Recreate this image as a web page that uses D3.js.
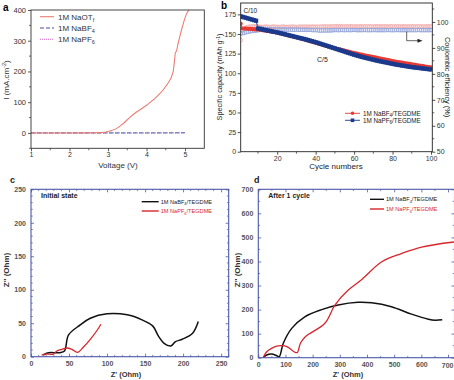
<!DOCTYPE html>
<html><head><meta charset="utf-8">
<script src="https://cdn.jsdelivr.net/npm/d3@7"></script>
<style>
body{margin:0;background:#fff;}
text{font-family:"Liberation Sans",Arial,sans-serif;}
</style></head>
<body>
<svg id="fig" width="454" height="380"></svg>
<script>
// ---------- Panel a data ----------
const voltOTf = [1, 2.0, 2.6, 2.79, 3.05, 3.22, 3.39, 3.56, 3.74, 4.0, 4.26, 4.52, 4.69, 4.73, 4.75, 4.77, 4.82, 4.93, 5.03, 5.1];
const curOTf  = [0, 0, 0.5, 1, 6.5, 14, 30, 50, 68, 90, 117, 155, 199, 240, 262, 264, 291, 345, 385, 400];
const voltBF4 = [1, 2, 3, 4, 5];
const curBF4  = [0, 0, 0, 0, 0.5];
const voltPF6 = [1, 2, 3, 4, 5];
const curPF6  = [0, 0, 0, 0, 0.5];
const aXTicks = [1, 2, 3, 4, 5];
const aYTicks = [0, 100, 200, 300, 400];

// ---------- Panel b data ----------
const capBF4 = [163,157,157,156.8,156.6,156.4,156.2,156,155.8,155.6,
155.3,155,154.6,154.2,153.8,153.4,153,152.6,152.2,151.8,
151.2,150.6,150,149.4,148.8,148.2,147.6,147,146.4,145.8,
145.1,144.4,143.7,143,142.3,141.6,140.9,140.2,139.5,138.8,
138.1,137.4,136.7,136,135.3,134.6,133.9,133.2,132.5,131.8,
131.2,130.6,130,129.4,128.8,128.2,127.6,127,126.4,125.8,
125.2,124.6,124.1,123.6,123.1,122.6,122.1,121.6,121.1,120.6,
120.1,119.6,119.1,118.6,118.1,117.6,117.1,116.6,116.1,115.6,
115.1,114.6,114.2,113.8,113.4,113,112.6,112.2,111.8,111.4,
111,110.6,110.2,109.8,109.4,109,108.6,108.2,107.8,107.4];
const capPF6 = [172.5,171.8,171.1,170.4,169.7,169,168.3,167.6,166.9,157,
156.5,156,155.5,155,154.5,154,153.5,153,152.5,152,
151.4,150.8,150.2,149.6,149,148.4,147.8,147.2,146.6,146,
145.4,144.8,144.2,143.6,143,142.3,141.6,140.9,140.2,139.5,
138.8,138,137.2,136.4,135.6,134.8,134,133.2,132.4,131.6,
130.8,130,129.2,128.4,127.6,126.8,126,125.2,124.4,123.6,
122.9,122.2,121.5,120.8,120.2,119.6,119,118.4,117.8,117.2,
116.6,116,115.5,115,114.5,114,113.5,113,112.5,112,
111.5,111,110.6,110.2,109.8,109.4,109,108.6,108.2,107.8,
107.5,107.2,106.9,106.6,106.3,106,105.7,105.4,105.1,104.8];
const ceBF4 = [93.0,96.6,97.5,97.9,98.1,98.2,98.2,98.3,98.2,98.3,
98.1,98.0,98.1,98.2,98.1,98.0,98.1,98.2,98.1,98.1,
98.0,98.1,98.2,98.1,98.0,98.1,98.1,98.2,98.1,98.0,
98.1,98.2,98.1,98.2,98.1,98.2,98.1,98.2,98.2,98.1,
98.2,98.1,98.2,98.2,98.3,98.2,98.2,98.3,98.2,98.3,
98.3,98.4,98.3,98.2,98.3,98.3,98.2,98.3,98.3,98.2,
98.3,98.2,98.3,98.3,98.2,98.3,98.3,98.2,98.3,98.2,
98.3,98.3,98.2,98.3,98.2,98.3,98.3,98.2,98.3,98.3,
98.2,98.3,98.3,98.2,98.3,98.3,98.2,98.3,98.2,98.3,
98.3,98.2,98.3,98.3,98.2,98.3,98.2,98.3,98.3,98.2];
const cePF6 = [95.5,95.7,95.9,96.1,96.3,96.4,96.5,96.6,96.7,96.8,
97.6,97.4,97.3,97.3,97.2,97.2,97.1,97.2,97.1,97.1,
97.0,97.1,97.0,97.1,97.0,97.0,97.1,97.0,97.0,97.1,
97.0,97.0,96.9,97.0,96.9,97.0,96.9,96.9,96.8,96.9,
96.8,96.7,96.7,96.8,96.7,96.8,96.7,96.8,96.8,96.9,
96.9,96.8,96.9,96.9,96.8,96.9,96.9,96.8,96.9,96.9,
96.9,96.8,96.9,96.8,96.9,96.9,96.8,96.9,96.8,96.9,
96.9,96.8,96.9,96.8,96.9,96.8,96.9,96.9,96.8,96.9,
96.8,96.9,96.9,96.8,96.9,96.8,96.9,96.8,96.9,96.8,
96.9,96.8,96.9,96.9,96.8,96.9,96.8,96.9,96.8,96.9];
const bXTicks = [20, 40, 60, 80, 100];
const bYTicks = [0, 25, 50, 75, 100, 125, 150, 175];
const bY2Ticks = [50, 60, 70, 80, 90, 100];

// ---------- Panel c data (initial state) ----------
const cBF4_re = [16,23,38,44,49.4,64.8,78,100,126.6,146,160,168,175,184,190,199,212.5,220];
const cBF4_im = [2.5,6,6,8.5,32.5,47.5,57.5,64,62.5,55,46,30,20,16,22.5,26,35,52.5];
const cPF6_re = [14,18.5,29.5,34,40.6,47,53.8,61,69,78,87,92];
const cPF6_im = [2.5,4,4,8.5,11,13,11,6.5,14.5,26,39.5,48.5];
const cTicks = [0, 50, 100, 150, 200, 250];

// ---------- Panel d data (after 1 cycle) ----------
const dBF4_re = [18,31,49,68,77,92,123,171,233,294,367,417,490,564,626,651,677];
const dBF4_im = [0,11,15,8,4,60,122,170,200,219,230,228,212,181,160,156,158];
const dPF6_re = [18,31,49,68,86,105,123,136,144,155,173,245,282,331,381,453,527,601,720];
const dPF6_im = [0,25,39,48.5,50,46,32,22,22,60,87,143,219,281,325,398,433,460,481];
const dTicks = [0, 100, 200, 300, 400, 500, 600, 700];

// =================== drawing ===================
const svg = d3.select("#fig");
const zip = (xs, ys) => xs.map((x, i) => [x, ys[i]]);

function styleAxis(g, color, fs, weight, tcolor) {
  g.select(".domain").remove();
  g.selectAll(".tick line").attr("stroke", color).attr("stroke-width", 0.8);
  g.selectAll(".tick text").attr("font-size", fs).attr("font-weight", weight || "normal")
    .attr("fill", tcolor || "#333").attr("font-family", "Liberation Sans, Arial, sans-serif");
}
function minor(g, scale, vals, orient, size, color) {
  vals.forEach(v => {
    const p = scale(v);
    if (orient === "h") g.append("line").attr("x1", p).attr("x2", p).attr("y1", 0).attr("y2", size).attr("stroke", color).attr("stroke-width", 0.7);
    else g.append("line").attr("y1", p).attr("y2", p).attr("x1", 0).attr("x2", size).attr("stroke", color).attr("stroke-width", 0.7);
  });
}

// ---------- Panel a ----------
{
  const x = d3.scaleLinear([1, 5.5], [31, 204.3]);
  const y = d3.scaleLinear([-50, 400], [148.3, 10]);
  const g = svg.append("g");
  const ax = g.append("g").attr("transform", "translate(0,148.3)")
    .call(d3.axisBottom(x).tickValues(aXTicks).tickSize(3).tickPadding(1).tickFormat(d3.format("d")));
  styleAxis(ax, "#333", 7);
  minor(ax, x, [1.5, 2.5, 3.5, 4.5], "h", 2, "#333");
  const ay = g.append("g").attr("transform", "translate(31,0)")
    .call(d3.axisLeft(y).tickValues(aYTicks).tickSize(3).tickPadding(2));
  styleAxis(ay, "#333", 7.5);
  minor(ay, y, [-50, 50, 150, 250, 350], "v", -2, "#333");
  const line = d3.line().x(d => x(d[0])).y(d => y(d[1])).curve(d3.curveMonotoneX);
  g.append("defs").append("clipPath").attr("id", "clipA").append("rect")
    .attr("x", 31).attr("y", 10).attr("width", 173.3).attr("height", 138.3);
  const pl = g.append("g").attr("clip-path", "url(#clipA)");
  pl.append("path").attr("d", line(zip(voltBF4, curBF4))).attr("fill", "none").attr("stroke", "#4a4aa8").attr("stroke-width", 1).attr("stroke-dasharray", "4,2");
  pl.append("path").attr("d", line(zip(voltPF6, curPF6))).attr("fill", "none").attr("stroke", "#d060c8").attr("stroke-width", 1).attr("stroke-dasharray", "1,1");
  pl.append("path").attr("d", line(zip(voltOTf, curOTf))).attr("fill", "none").attr("stroke", "#ec7c72").attr("stroke-width", 1.1);
  g.append("rect").attr("x", 31).attr("y", 10).attr("width", 173.3).attr("height", 138.3).attr("fill", "none").attr("stroke", "#333").attr("stroke-width", 0.9);
  const leg = [["#ec7c72", null, "1M NaOT", "f"], ["#4a4aa8", "4,2", "1M NaBF", "4"], ["#d060c8", "1,1", "1M NaPF", "6"]];
  leg.forEach((L, i) => {
    const yy = 16.7 + i * 11.3;
    g.append("line").attr("x1", 40).attr("x2", 54).attr("y1", yy).attr("y2", yy).attr("stroke", L[0]).attr("stroke-width", 1.1).attr("stroke-dasharray", L[1]);
    const t = g.append("text").attr("x", 58).attr("y", yy + 2.8).attr("font-size", 8).attr("fill", "#333");
    t.append("tspan").text(L[2]);
    t.append("tspan").attr("font-size", 5.5).attr("dy", 2).text(L[3]);
  });
  g.append("text").attr("x", 3).attr("y", 11).attr("font-size", 10).attr("font-weight", "bold").text("a");
  g.append("text").attr("x", 118).attr("y", 168).attr("text-anchor", "middle").attr("font-size", 8).attr("fill", "#333").text("Voltage (V)");
  const yl = g.append("text").attr("transform", "translate(9,80) rotate(-90)").attr("text-anchor", "middle").attr("font-size", 8).attr("fill", "#333");
  yl.append("tspan").text("I (mA.cm");
  yl.append("tspan").attr("font-size", 5.5).attr("dy", -3).text("-2");
  yl.append("tspan").attr("dy", 3).text(")");
}

// ---------- Panel b ----------
{
  const x = d3.scaleLinear([1, 100], [240.7, 431]);
  const y = d3.scaleLinear([0, 189.5], [151.7, 3]);
  const y2 = d3.scaleLinear([50, 107.3], [151.7, 3]);
  const g = svg.append("g");
  const cycles = d3.range(1, 101);
  g.append("defs").append("clipPath").attr("id", "clipB").append("rect")
    .attr("x", 240.7).attr("y", 3).attr("width", 191.6).attr("height", 148.7);
  const pl = g.append("g").attr("clip-path", "url(#clipB)");
  pl.selectAll(".ceb").data(cycles).join("circle")
    .attr("cx", c => x(c)).attr("cy", (c, i) => y2(ceBF4[i])).attr("r", 1.9)
    .attr("fill", "none").attr("stroke", "#f0a0a0").attr("stroke-width", 0.7);
  pl.selectAll(".cep").data(cycles).join("rect")
    .attr("x", c => x(c) - 1.7).attr("y", (c, i) => y2(cePF6[i]) - 1.7).attr("width", 3.4).attr("height", 3.4)
    .attr("fill", "none").attr("stroke", "#98a8dc").attr("stroke-width", 0.7);
  const lineB = d3.line().x((d, i) => x(i + 1)).y(d => y(d));
  pl.append("path").attr("d", lineB(capBF4)).attr("fill", "none").attr("stroke", "#e83a32").attr("stroke-width", 1);
  pl.selectAll(".cb").data(capBF4).join("circle")
    .attr("cx", (d, i) => x(i + 1)).attr("cy", d => y(d)).attr("r", 2.1).attr("fill", "#e83a32");
  pl.append("path").attr("d", lineB(capPF6)).attr("fill", "none").attr("stroke", "#1c3a8c").attr("stroke-width", 1);
  pl.selectAll(".cp").data(capPF6).join("rect")
    .attr("x", (d, i) => x(i + 1) - 2.1).attr("y", d => y(d) - 2.1).attr("width", 4.2).attr("height", 4.2).attr("fill", "#1c3a8c");
  const ax = g.append("g").attr("transform", "translate(0,151.7)")
    .call(d3.axisBottom(x).tickValues(bXTicks).tickSize(3).tickPadding(1));
  styleAxis(ax, "#222", 7);
  minor(ax, x, [10, 30, 50, 70, 90], "h", 2, "#222");
  const ay = g.append("g").attr("transform", "translate(240.7,0)")
    .call(d3.axisLeft(y).tickValues(bYTicks).tickSize(3).tickPadding(1.5));
  styleAxis(ay, "#222", 7);
  const ay2 = g.append("g").attr("transform", "translate(432.3,0)")
    .call(d3.axisRight(y2).tickValues(bY2Ticks).tickSize(3).tickPadding(1.5));
  styleAxis(ay2, "#222", 7);
  minor(ay2, y2, [55, 65, 75, 85, 95, 105], "v", 2, "#222");
  g.append("rect").attr("x", 240.7).attr("y", 3).attr("width", 191.6).attr("height", 148.7).attr("fill", "none").attr("stroke", "#222").attr("stroke-width", 0.9);
  g.append("text").attr("x", 243.5).attr("y", 13).attr("font-size", 6.5).attr("fill", "#222").text("C/10");
  g.append("text").attr("x", 317).attr("y", 62).attr("font-size", 7).attr("fill", "#222").text("C/5");
  g.append("path").attr("d", "M406.7,31.7 V40.7 H418").attr("fill", "none").attr("stroke", "#222").attr("stroke-width", 0.7);
  g.append("path").attr("d", "M422.5,40.7 L417.5,38.7 L417.5,42.7 Z").attr("fill", "#222");
  [["#e83a32", "c", "1M NaBF", "4"], ["#1c3a8c", "s", "1M NaPF", "6"]].forEach((L, i) => {
    const yy = 113.3 + i * 7;
    g.append("line").attr("x1", 345).attr("x2", 360).attr("y1", yy).attr("y2", yy).attr("stroke", L[0]).attr("stroke-width", 0.9);
    if (L[1] === "c") g.append("circle").attr("cx", 352.5).attr("cy", yy).attr("r", 1.8).attr("fill", L[0]);
    else g.append("rect").attr("x", 350.7).attr("y", yy - 1.8).attr("width", 3.6).attr("height", 3.6).attr("fill", L[0]);
    const t = g.append("text").attr("x", 363).attr("y", yy + 2.3).attr("font-size", 6.3).attr("fill", "#222");
    t.append("tspan").text(L[2]);
    t.append("tspan").attr("font-size", 4.5).attr("dy", 1.5).text(L[3]);
    t.append("tspan").attr("dy", -1.5).text("/TEGDME");
  });
  g.append("text").attr("x", 221).attr("y", 9).attr("font-size", 10).attr("font-weight", "bold").text("b");
  g.append("text").attr("x", 336).attr("y", 169).attr("text-anchor", "middle").attr("font-size", 8).attr("fill", "#222").text("Cycle numbers");
  const yl = g.append("text").attr("transform", "translate(222,77) rotate(-90)").attr("text-anchor", "middle").attr("font-size", 7.3).attr("fill", "#222");
  yl.append("tspan").text("Specific capacity (mAh g");
  yl.append("tspan").attr("font-size", 5).attr("dy", -2.5).text("-1");
  yl.append("tspan").attr("dy", 2.5).text(")");
  g.append("text").attr("transform", "translate(445,77) rotate(90)").attr("text-anchor", "middle").attr("font-size", 7.3).attr("fill", "#222").text("Coulombic efficiency (%)");
}

// ---------- Panels c & d (impedance) ----------
function eisPanel(opt) {
  const x = d3.scaleLinear(opt.xd, opt.xr);
  const y = d3.scaleLinear(opt.yd, [opt.y1, opt.y0]);
  const g = svg.append("g");
  const blue = "#4b58a8";
  const id = "clip" + opt.letter;
  g.append("defs").append("clipPath").attr("id", id).append("rect")
    .attr("x", opt.x0).attr("y", opt.y0).attr("width", opt.x1 - opt.x0).attr("height", opt.y1 - opt.y0);
  const line = d3.line().x(d => x(d[0])).y(d => y(d[1])).curve(d3.curveCatmullRom.alpha(0.5));
  const pl = g.append("g").attr("clip-path", `url(#${id})`);
  pl.append("path").attr("d", line(zip(opt.bRe, opt.bIm))).attr("fill", "none").attr("stroke", "#111").attr("stroke-width", 1.5);
  pl.append("path").attr("d", line(zip(opt.pRe, opt.pIm))).attr("fill", "none").attr("stroke", "#d8262b").attr("stroke-width", 1.3);
  const ax = g.append("g").attr("transform", `translate(0,${opt.y1})`)
    .call(d3.axisBottom(x).tickValues(opt.ticks).tickSize(-3).tickPadding(4.5));
  styleAxis(ax, blue, 7, "bold", "#555");
  const axT = g.append("g").attr("transform", `translate(0,${opt.y0})`)
    .call(d3.axisTop(x).tickValues(opt.ticks).tickSize(-3).tickFormat(""));
  styleAxis(axT, blue, 7);
  const ay = g.append("g").attr("transform", `translate(${opt.x0},0)`)
    .call(d3.axisLeft(y).tickValues(opt.yticks).tickSize(-3).tickPadding(5));
  styleAxis(ay, blue, 7, "bold", "#555");
  const ayR = g.append("g").attr("transform", `translate(${opt.x1},0)`)
    .call(d3.axisRight(y).tickValues(opt.yticks).tickSize(-3).tickFormat(""));
  styleAxis(ayR, blue, 7);
  minor(ax, x, opt.minor.filter(v => v <= opt.xd[1]), "h", -1.8, blue);
  minor(axT, x, opt.minor.filter(v => v <= opt.xd[1]), "h", 1.8, blue);
  minor(ay, y, opt.minor.filter(v => v <= opt.yd[1]), "v", 1.8, blue);
  minor(ayR, y, opt.minor.filter(v => v <= opt.yd[1]), "v", -1.8, blue);
  g.append("rect").attr("x", opt.x0).attr("y", opt.y0).attr("width", opt.x1 - opt.x0).attr("height", opt.y1 - opt.y0)
    .attr("fill", "none").attr("stroke", blue).attr("stroke-width", 1.1);
  g.append("text").attr("x", opt.x0 + 10).attr("y", opt.y0 + 8.5).attr("font-size", 7).attr("font-weight", "bold").attr("fill", "#222").text(opt.title);
  [["#111", "1M NaBF", "4"], ["#d8262b", "1M NaPF", "6"]].forEach((L, i) => {
    const yy = opt.legY + i * opt.legDy;
    g.append("line").attr("x1", opt.legX).attr("x2", opt.legX + opt.legW).attr("y1", yy).attr("y2", yy).attr("stroke", L[0]).attr("stroke-width", 1.4);
    const t = g.append("text").attr("x", opt.legX + opt.legW + 2).attr("y", yy + 2).attr("font-size", 5.6).attr("fill", L[0] === "#111" ? "#222" : "#d8262b");
    t.append("tspan").text(L[1]);
    t.append("tspan").attr("font-size", 4).attr("dy", 1.5).text(L[2]);
    t.append("tspan").attr("dy", -1.5).text("/TEGDME");
  });
  g.append("text").attr("x", opt.lx).attr("y", opt.ly).attr("font-size", 9).attr("font-weight", "bold").attr("fill", "#222").text(opt.letter);
  g.append("text").attr("x", opt.tx).attr("y", 377).attr("text-anchor", "middle").attr("font-size", 7.5).attr("font-weight", "bold").attr("fill", "#333").text("Z' (Ohm)");
  g.append("text").attr("transform", `translate(${opt.yl},270) rotate(-90)`).attr("text-anchor", "middle").attr("font-size", 8).attr("font-weight", "bold").attr("fill", "#333").text("Z'' (Ohm)");
}

eisPanel({letter: "c", xd: [0, 260], xr: [31, 228.7], yd: [0, 250], x0: 31, x1: 228.7, y0: 189.3, y1: 356.7,
  ticks: cTicks, yticks: cTicks, minor: [10,20,30,40,60,70,80,90,110,120,130,140,160,170,180,190,210,220,230,240,260],
  bRe: cBF4_re, bIm: cBF4_im, pRe: cPF6_re, pIm: cPF6_im, title: "Initial state",
  legX: 141.7, legW: 17, legY: 201.7, legDy: 9.3, lx: 10, ly: 183, yl: 9, tx: 126});
eisPanel({letter: "d", xd: [0, 700], xr: [258.3, 448.5], yd: [0, 700], x0: 258.3, x1: 454.5, y0: 189.3, y1: 357.7,
  ticks: [0, 100, 200, 300, 400, 500, 600], yticks: dTicks, minor: [50,150,250,350,450,550,650],
  bRe: dBF4_re, bIm: dBF4_im, pRe: dPF6_re, pIm: dPF6_im, title: "After 1 cycle",
  legX: 370, legW: 14, legY: 199.3, legDy: 9.7, lx: 254, ly: 183, yl: 240, tx: 348});
// last x tick label of panel d sits at the image edge
{
  const xd = d3.scaleLinear([0, 700], [258.3, 448.5]);
  svg.append("line").attr("x1", xd(700)).attr("x2", xd(700)).attr("y1", 357.7).attr("y2", 354.7).attr("stroke", "#4b58a8").attr("stroke-width", 0.8);
  svg.append("line").attr("x1", xd(700)).attr("x2", xd(700)).attr("y1", 189.3).attr("y2", 192.3).attr("stroke", "#4b58a8").attr("stroke-width", 0.8);
  svg.append("text").attr("x", 453.5).attr("y", 367.5).attr("text-anchor", "end").attr("font-size", 7).attr("font-weight", "bold").attr("fill", "#555").text(dTicks[7]);
}
</script>
</body></html>
